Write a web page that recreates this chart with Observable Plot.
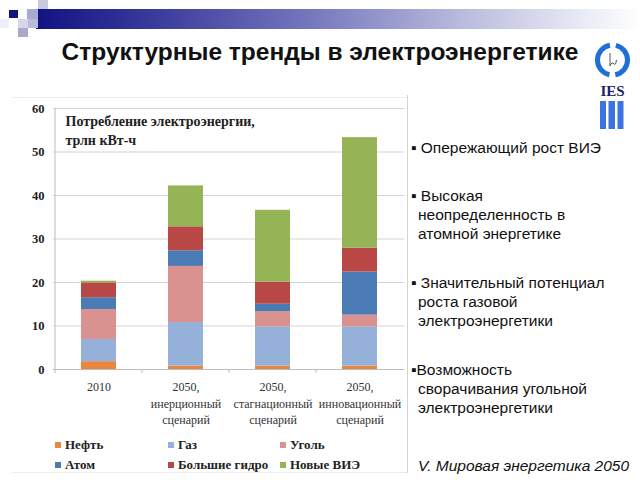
<!DOCTYPE html>
<html><head><meta charset="utf-8">
<script src="https://cdn.jsdelivr.net/npm/d3@7"></script>
<script src="https://cdn.jsdelivr.net/npm/@observablehq/plot@0.6"></script>
<style>
body{margin:0;background:#fff;}
#page{position:relative;width:640px;height:480px;overflow:hidden;font-family:"Liberation Sans",Arial,sans-serif;background:#fff;}
.abs{position:absolute;}
#title{left:0;width:640px;top:38px;text-align:center;font-weight:bold;font-size:24.5px;color:#111;white-space:nowrap;}
.bul{position:absolute;left:418px;font-size:15.5px;line-height:19px;color:#111;white-space:nowrap;text-indent:-7px;}
.leg{position:absolute;font-family:"Liberation Serif","Times New Roman",serif;font-weight:bold;font-size:13px;color:#222;white-space:nowrap;}
.sw{position:absolute;width:6px;height:6px;}
</style></head><body><div id="page">
<div class="abs" style="left:36px;top:9px;width:604px;height:20px;background:linear-gradient(to right,#121283 0%,#3a3c9c 20%,#7476bd 45%,#b8b9dc 70%,#eceef8 92%,#fff 100%);"></div>
<div class="abs" style="left:38px;top:0px;width:10px;height:9px;background:#c9c9de;"></div>
<div class="abs" style="left:27px;top:9px;width:11px;height:10px;background:#a9aad3;"></div>
<div class="abs" style="left:9px;top:10px;width:9px;height:8px;background:#14147e;"></div>
<div class="abs" style="left:18px;top:19px;width:10px;height:9px;background:#d5d6e8;"></div>
<div class="abs" style="left:28px;top:19px;width:10px;height:9px;background:#b9bad9;"></div>
<div class="abs" style="left:0px;top:19px;width:9px;height:9px;background:#eef0f6;"></div>
<div class="abs" style="left:18px;top:28px;width:10px;height:9px;background:#a9aac8;"></div>
<div id="title" class="abs">Структурные тренды в электроэнергетике</div>
<svg class="abs" style="left:590px;top:38px" width="50" height="95" viewBox="0 0 50 95">
  <circle cx="22.5" cy="22" r="15" fill="none" stroke="#1f6fd6" stroke-width="5" stroke-dasharray="41.1 6" stroke-dashoffset="20.55"/>
  <path d="M20,15 L20,28 Q22,23 24,26 Q25.5,28 26.5,22" fill="none" stroke="#444" stroke-width="0.9"/>
  <text x="22.5" y="58" text-anchor="middle" font-family="Liberation Serif" font-weight="bold" font-size="15" fill="#1b2466">IES</text>
  <rect x="10" y="63" width="6" height="28" fill="#3b74e0"/>
  <rect x="18.5" y="63" width="6.5" height="28" fill="#3b74e0"/>
  <rect x="27.5" y="63" width="6" height="28" fill="#3b74e0"/>
</svg>
<div class="abs" style="left:12px;top:97px;width:396px;height:1px;background:#ececec;"></div>
<div class="abs" style="left:12px;top:472px;width:396px;height:1px;background:#ececec;"></div>
<div class="abs" style="left:407px;top:95px;width:1px;height:378px;background:#d4d4d4;"></div>
<div id="chart" class="abs" style="left:0;top:95px;"></div>
<div class="bul" style="top:138px;">▪ Опережающий рост ВИЭ</div>
<div class="bul" style="top:186px;">▪ Высокая<br>неопределенность в<br>атомной энергетике</div>
<div class="bul" style="top:273px;">▪ Значительный потенциал<br>роста газовой<br>электроэнергетики</div>
<div class="bul" style="top:360px;">▪Возможность<br>сворачивания угольной<br>электроэнергетики</div>
<div class="bul" style="top:456px;text-indent:0;font-style:italic;">V. Мировая энергетика 2050</div>
</div>
<script>
const categories = ["2010", "2050,\nинерционный\nсценарий", "2050,\nстагнационный\nсценарий", "2050,\nинновационный\nсценарий"];
const sources = ["Нефть", "Газ", "Уголь", "Атом", "Большие гидро", "Новые ВИЭ"];
const colors = ["#E8873F", "#95B1DA", "#D9928F", "#4A7BB5", "#B94745", "#94B456"];
const oil = [1.8, 0.8, 0.8, 0.8];
const gas = [5.1, 10.0, 9.0, 9.0];
const coal = [6.9, 12.9, 3.5, 2.7];
const nuclear = [2.7, 3.6, 1.7, 9.9];
const hydro = [3.4, 5.5, 5.1, 5.5];
const renewables = [0.4, 9.4, 16.5, 25.4];
const yTicks = [0, 10, 20, 30, 40, 50, 60];
const innerTitle = "Потребление электроэнергии,\nтрлн кВт-ч";

const series = [oil, gas, coal, nuclear, hydro, renewables];
const data = [];
categories.forEach((c, i) => sources.forEach((s, j) => data.push({category: c, source: s, value: series[j][i]})));

const serif = "Liberation Serif, Times New Roman, serif";
const chart = Plot.plot({
  width: 410, height: 340,
  marginTop: 13, marginBottom: 66, marginLeft: 53, marginRight: 6,
  style: {fontFamily: serif, background: "transparent", color: "#222"},
  x: {domain: categories, paddingInner: 0.6, paddingOuter: 0.3, label: null},
  y: {domain: [0, 60], label: null},
  color: {domain: sources, range: colors},
  marks: [
    Plot.gridY(yTicks, {stroke: "#d3d3d3", strokeOpacity: 1}),
    Plot.barY(data, {x: "category", y: "value", fill: "source"}),
    Plot.ruleY([0], {stroke: "#bdbdbd"}),
    Plot.axisY(yTicks, {tickSize: 0, tickPadding: 9, fontWeight: "bold", fontSize: 12.5, fontFamily: serif, label: null}),
    Plot.axisX({tickSize: 0, tickPadding: 10, fontSize: 12, fontFamily: serif, lineHeight: 1.37, label: null, fill: "#333"}),
    Plot.text([innerTitle], {text: d => d, frameAnchor: "top-left", dx: 12, dy: 4, fontWeight: "bold", fontSize: 14, fontFamily: serif, lineHeight: 1.36, fill: "#222"})
  ]
});
document.getElementById("chart").appendChild(chart);

// axis line and category separator ticks, positioned with the plot's own scales
const sx = chart.scale("x"), sy = chart.scale("y");
const svg = d3.select(chart);
const y0 = sy.apply(0), y60 = sy.apply(60);
const gap = (sx.step - sx.bandwidth) / 2;
const xLeft = sx.apply(categories[0]) - gap;
svg.append("line").attr("x1", xLeft).attr("x2", xLeft).attr("y1", y60).attr("y2", y0).attr("stroke", "#bdbdbd");
categories.forEach((c, i) => {
  const xb = sx.apply(c) - gap;
  svg.append("line").attr("x1", xb).attr("x2", xb).attr("y1", y0).attr("y2", y0 + 4).attr("stroke", "#bdbdbd");
});

// legend
const legendPos = [[55, 442], [168, 442], [280, 442], [55, 462], [168, 462], [280, 462]];
const page = document.getElementById("page");
sources.forEach((s, i) => {
  const [lx, ly] = legendPos[i];
  const sw = document.createElement("div");
  sw.className = "sw";
  sw.style.left = lx + "px"; sw.style.top = ly + "px"; sw.style.background = colors[i];
  page.appendChild(sw);
  const t = document.createElement("div");
  t.className = "leg";
  t.style.left = (lx + 10) + "px"; t.style.top = (ly - 5) + "px";
  t.textContent = s;
  page.appendChild(t);
});
</script>
</body></html>
